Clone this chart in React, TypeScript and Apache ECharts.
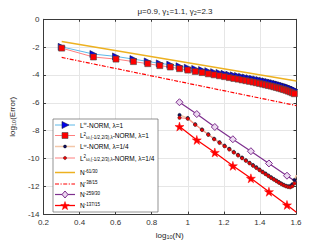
import React, { useEffect, useRef } from 'react';
import * as echarts from 'echarts';

// N values for lambda = 1 runs
const N_L1 = [2, 3, 4, 5, 6, 7, 8, 9, 10, 11, 12, 13, 14, 15, 16, 17, 18, 19, 20, 21, 22, 23, 24, 25, 26, 27, 28, 29, 30, 31, 32, 33, 34, 35, 36, 37, 38, 39, 40];
const LINF_L1 = [-1.98, -2.5, -2.67, -2.86, -3.03, -3.17, -3.26, -3.38, -3.48, -3.57, -3.65, -3.73, -3.8, -3.86, -3.92, -3.98, -4.03, -4.08, -4.13, -4.18, -4.23, -4.28, -4.32, -4.37, -4.41, -4.46, -4.5, -4.55, -4.59, -4.64, -4.69, -4.74, -4.79, -4.84, -4.89, -4.95, -5.01, -5.07, -5.14];
const L2_L1 = [-2.07, -2.71, -2.86, -3.04, -3.19, -3.33, -3.43, -3.55, -3.65, -3.75, -3.83, -3.92, -3.99, -4.06, -4.12, -4.19, -4.25, -4.3, -4.36, -4.41, -4.46, -4.51, -4.56, -4.61, -4.66, -4.71, -4.76, -4.8, -4.85, -4.9, -4.95, -5.0, -5.05, -5.1, -5.16, -5.22, -5.28, -5.35, -5.42];

// N values for lambda = 1/4 runs
const N_L4 = [9, 10, 11, 12, 13, 14, 15, 16, 17, 18, 19, 20, 21, 22, 23, 24, 25, 26, 27, 28, 29, 30, 31, 32, 33, 34, 35, 36, 37, 38, 39, 40];
const LINF_L4 = [-6.88, -7.1, -7.55, -7.92, -8.27, -8.58, -8.84, -9.08, -9.31, -9.53, -9.74, -9.94, -10.13, -10.31, -10.48, -10.64, -10.8, -10.95, -11.09, -11.23, -11.36, -11.48, -11.59, -11.7, -11.8, -11.89, -11.96, -12.0, -11.98, -11.85, -11.55, -11.2];
const L2_L4 = [-7.07, -7.14, -7.58, -7.95, -8.3, -8.62, -8.88, -9.12, -9.35, -9.57, -9.78, -9.98, -10.17, -10.35, -10.52, -10.68, -10.84, -10.99, -11.13, -11.27, -11.4, -11.52, -11.63, -11.74, -11.84, -11.93, -12.0, -12.05, -12.07, -12.0, -11.8, -11.55];

// reference slopes (x = log10 N)
const REF61_X = [0.301, 1.602];
const REF61_Y = [-1.6, -4.43];
const REF38_X = [0.301, 1.602];
const REF38_Y = [-2.74, -6.2];
const REF_MARK_X = [0.954, 1.05, 1.15, 1.25, 1.35, 1.45, 1.55, 1.602];
const REF259_Y = [-5.96, -6.81, -7.74, -8.62, -9.48, -10.36, -11.24, -11.69];
const REF137_Y = [-7.71, -8.67, -9.57, -10.53, -11.43, -12.39, -13.34, -13.86];
const MARKED = [true, true, true, true, true, true, true, false];

const X_TICKS = { min: 0.2, max: 1.6, interval: 0.2 };
const Y_TICKS = { min: -14, max: 0, interval: 2 };

const NAMES = [
  'L∞-NORM, λ=1',
  'L2-NORM, λ=1',
  'L∞-NORM, λ=1/4',
  'L2-NORM, λ=1/4',
  'N-61/30',
  'N-38/15',
  'N-259/30',
  'N-137/15',
];
const LEGEND_RICH = [
  '{t|L}{sup|∞}{t|-NORM, λ=1}',
  '{t|L}{sup|2}{sub|ω,(-1/2,2/3),λ}{t|-NORM, λ=1}',
  '{t|L}{sup|∞}{t|-NORM, λ=1/4}',
  '{t|L}{sup|2}{sub|ω,(-1/2,2/3),λ}{t|-NORM, λ=1/4}',
  '{t|N}{sup|-61/30}',
  '{t|N}{sup|-38/15}',
  '{t|N}{sup|-259/30}',
  '{t|N}{sup|-137/15}',
];

const FONT = 'Liberation Sans, Arial, sans-serif';
const STAR = 'path://M50,0 L61,35 L98,35 L68,57 L79,91 L50,70 L21,91 L32,57 L2,35 L39,35 Z';

const C = {
  blueLine: '#5DB8E8',
  blueMark: '#0000EE',
  redLine: '#FF7F7F',
  redMark: '#FF0000',
  peach: '#F3C7A8',
  navy: '#10105a',
  orange: '#EDB120',
  purple: '#7E2F8E',
};

function pairs(ns: number[], ys: number[]) {
  return ns.map((n, i) => [Math.log10(n), ys[i]]);
}
function marked(xs: number[], ys: number[]) {
  return xs.map((x, i) => (MARKED[i] ? [x, ys[i]] : { value: [x, ys[i]], symbol: 'none' }));
}
function starPts(cx: number, cy: number, R: number) {
  const pts: number[][] = [];
  const r = R * 0.4;
  for (let k = 0; k < 10; k++) {
    const a = -Math.PI / 2 + (k * Math.PI) / 5;
    const rr = k % 2 === 0 ? R : r;
    pts.push([cx + rr * Math.cos(a), cy + rr * Math.sin(a)]);
  }
  return pts;
}

function buildLegend() {
  const bx = 53, by = 119, bw = 105, bh = 93;
  const ys = [125, 135.5, 146.5, 158, 172.5, 184, 194.5, 205.5];
  const lx1 = 55, lx2 = 75, mx = 65, tx = 80;
  const z = 100;
  const els: any[] = [
    { type: 'rect', z, shape: { x: bx, y: by, width: bw, height: bh }, style: { fill: '#fff', stroke: '#666', lineWidth: 0.7 } },
  ];
  const lines = [
    { stroke: C.blueLine, lineWidth: 1 },
    { stroke: C.redLine, lineWidth: 1 },
    { stroke: C.peach, lineWidth: 1.5 },
    { stroke: C.redLine, lineWidth: 1 },
    { stroke: C.orange, lineWidth: 1.5 },
    { stroke: '#FF0000', lineWidth: 1.2, lineDash: [4, 1.5, 1.2, 1.5] },
    { stroke: C.purple, lineWidth: 1.2 },
    { stroke: '#FF0000', lineWidth: 1.3 },
  ];
  const rich = {
    t: { fontSize: 6.5, fontFamily: FONT, color: '#000', fontWeight: 'normal' },
    sup: { fontSize: 4.5, fontFamily: FONT, color: '#000', verticalAlign: 'top', padding: [0, 0, 3, 0] },
    sub: { fontSize: 4.5, fontFamily: FONT, color: '#000', verticalAlign: 'bottom', padding: [3, 0, 0, 0] },
  };
  ys.forEach((y, i) => {
    els.push({ type: 'line', z: z + 1, shape: { x1: lx1, y1: y, x2: lx2, y2: y }, style: { ...lines[i], fill: null } });
    els.push({
      type: 'text',
      z: z + 1,
      x: tx,
      y,
      style: { text: LEGEND_RICH[i], rich, verticalAlign: 'middle', align: 'left', fontSize: 6.5, fontFamily: FONT },
    });
  });
  // markers
  els.push({ type: 'polygon', z: z + 2, shape: { points: [[62, ys[0] - 3.5], [62, ys[0] + 3.5], [69, ys[0]]] }, style: { fill: C.blueMark, stroke: '#1a1a40', lineWidth: 0.6 } });
  els.push({ type: 'rect', z: z + 2, shape: { x: 62, y: ys[1] - 3, width: 6, height: 6 }, style: { fill: C.redMark, stroke: '#4a4a4a', lineWidth: 0.6 } });
  els.push({ type: 'circle', z: z + 2, shape: { cx: mx, cy: ys[2], r: 1.6 }, style: { fill: C.navy, stroke: '#000', lineWidth: 0.3 } });
  els.push({ type: 'circle', z: z + 2, shape: { cx: mx, cy: ys[3], r: 1.6 }, style: { fill: '#EE0000', stroke: '#333', lineWidth: 0.5 } });
  els.push({ type: 'polygon', z: z + 2, shape: { points: [[mx, ys[6] - 3.5], [mx + 3, ys[6]], [mx, ys[6] + 3.5], [mx - 3, ys[6]]] }, style: { fill: '#EBD8F0', stroke: C.purple, lineWidth: 1 } });
  els.push({ type: 'polygon', z: z + 2, shape: { points: starPts(mx, ys[7] + 0.5, 4.5) }, style: { fill: '#FF0000', stroke: '#FF0000', lineWidth: 0.5 } });
  return els;
}

export default function App() {
  const ref = useRef<HTMLDivElement>(null);
  useEffect(() => {
    const chart = echarts.init(ref.current!, null, { renderer: 'svg' });
    const axisColor = '#3a3a3a';
    const subRich = {
      t: { fontSize: 8, fontFamily: FONT, color: '#262626', fontWeight: 'normal' },
      sub: { fontSize: 5.5, fontFamily: FONT, color: '#262626', fontWeight: 'normal', verticalAlign: 'bottom', padding: [4, 0, 0, 0] },
    };
    chart.setOption({
      animation: false,
      backgroundColor: '#fff',
      title: {
        text: '{t|μ=0.9, γ}{sub|1}{t|=1.1, γ}{sub|2}{t|=2.3}',
        left: 170,
        textAlign: 'center',
        top: 1,
        textStyle: { fontWeight: 'normal', rich: subRich },
      },
      grid: { left: 42.3, right: 31, top: 19.3, bottom: 29.7 },
      xAxis: [
        {
          type: 'value',
          ...X_TICKS,
          name: '{t|log}{sub|10}{t|(N)}',
          nameLocation: 'middle',
          nameGap: 13,
          nameTextStyle: { rich: subRich },
          axisLine: { show: true, onZero: false, lineStyle: { color: axisColor, width: 1 } },
          axisTick: { show: true, inside: true, length: 2.5, lineStyle: { color: axisColor } },
          axisLabel: { fontSize: 8, fontFamily: FONT, color: '#333', margin: 4 },
          splitLine: { show: true, lineStyle: { color: '#e6e6e6', width: 1 } },
        },
        {
          type: 'value',
          position: 'top',
          ...X_TICKS,
          axisLine: { show: true, onZero: false, lineStyle: { color: axisColor, width: 1 } },
          axisTick: { show: true, inside: true, length: 2.5, lineStyle: { color: axisColor } },
          axisLabel: { show: false },
          splitLine: { show: false },
        },
      ],
      yAxis: [
        {
          type: 'value',
          ...Y_TICKS,
          name: '{t|log}{sub|10}{t|(Error)}',
          nameLocation: 'middle',
          nameGap: 13,
          nameTextStyle: { rich: subRich },
          axisLine: { show: true, onZero: false, lineStyle: { color: axisColor, width: 1 } },
          axisTick: { show: true, inside: true, length: 2.5, lineStyle: { color: axisColor } },
          axisLabel: { fontSize: 8, fontFamily: FONT, color: '#333', margin: 4 },
          splitLine: { show: true, lineStyle: { color: '#e6e6e6', width: 1 } },
        },
        {
          type: 'value',
          position: 'right',
          ...Y_TICKS,
          axisLine: { show: true, onZero: false, lineStyle: { color: axisColor, width: 1 } },
          axisTick: { show: true, inside: true, length: 2.5, lineStyle: { color: axisColor } },
          axisLabel: { show: false },
          splitLine: { show: false },
        },
      ],
      graphic: buildLegend(),
      series: [
        {
          name: NAMES[0],
          type: 'line',
          data: pairs(N_L1, LINF_L1),
          symbol: 'triangle',
          symbolRotate: -90,
          symbolSize: 7,
          lineStyle: { color: C.blueLine, width: 1 },
          itemStyle: { color: C.blueMark, borderColor: '#1a1a40', borderWidth: 0.6 },
        },
        {
          name: NAMES[1],
          type: 'line',
          data: pairs(N_L1, L2_L1),
          symbol: 'rect',
          symbolSize: 6,
          lineStyle: { color: C.redLine, width: 1 },
          itemStyle: { color: C.redMark, borderColor: '#4a4a4a', borderWidth: 0.6 },
        },
        {
          name: NAMES[2],
          type: 'line',
          data: pairs(N_L4, LINF_L4),
          symbol: 'circle',
          symbolSize: 3.5,
          lineStyle: { color: C.peach, width: 1.5 },
          itemStyle: { color: C.navy, borderColor: '#000', borderWidth: 0.3 },
        },
        {
          name: NAMES[3],
          type: 'line',
          data: pairs(N_L4, L2_L4),
          symbol: 'circle',
          symbolSize: 3.5,
          lineStyle: { color: C.redLine, width: 1 },
          itemStyle: { color: '#EE0000', borderColor: '#333', borderWidth: 0.5 },
        },
        {
          name: NAMES[4],
          type: 'line',
          data: REF61_X.map((x, i) => [x, REF61_Y[i]]),
          symbol: 'none',
          lineStyle: { color: C.orange, width: 1.5 },
          itemStyle: { color: C.orange },
        },
        {
          name: NAMES[5],
          type: 'line',
          data: REF38_X.map((x, i) => [x, REF38_Y[i]]),
          symbol: 'none',
          lineStyle: { color: '#FF0000', width: 1.2, type: [4, 1.5, 1.2, 1.5] },
          itemStyle: { color: '#FF0000' },
        },
        {
          name: NAMES[6],
          type: 'line',
          data: marked(REF_MARK_X, REF259_Y),
          symbol: 'diamond',
          symbolSize: 7,
          lineStyle: { color: C.purple, width: 1.2 },
          itemStyle: { color: '#EBD8F0', borderColor: C.purple, borderWidth: 1 },
        },
        {
          name: NAMES[7],
          type: 'line',
          data: marked(REF_MARK_X, REF137_Y),
          symbol: STAR,
          symbolSize: 9,
          lineStyle: { color: '#FF0000', width: 1.3 },
          itemStyle: { color: '#FF0000', borderColor: '#FF0000', borderWidth: 0.5 },
        },
      ],
    });
    return () => chart.dispose();
  }, []);
  return (
    <div
      ref={ref}
      style={{ position: 'fixed', left: 0, top: 0, width: 327, height: 245, background: '#fff' }}
    />
  );
}
